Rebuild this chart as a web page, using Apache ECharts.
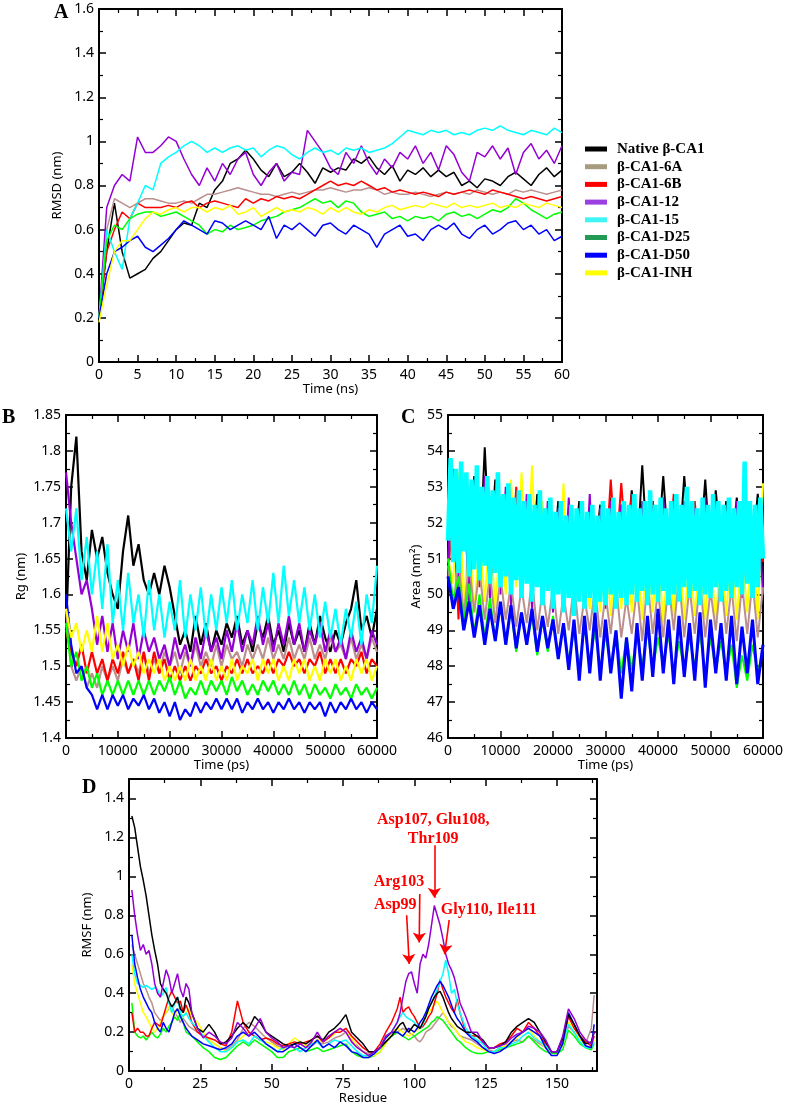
<!DOCTYPE html>
<html><head><meta charset="utf-8">
<script src="https://cdn.jsdelivr.net/npm/echarts@6/dist/echarts.min.js"></script>
<style>html,body{margin:0;padding:0;background:#fff}#c{width:787px;height:1106px}</style>
</head><body><div id="c"></div>
<script>
// ---------- categories / legend ----------
const NAMES = ['Native β-CA1','β-CA1-6A','β-CA1-6B','β-CA1-12','β-CA1-15','β-CA1-D25','β-CA1-D50','β-CA1-INH'];
const COLORS = ['#000000','#bc8f8f','#ff0000','#9400d3','#00ffff','#00ff00','#0000ff','#ffff00'];
const LEGEND_COLORS = ['#000000','#a89c80','#ff0000','#9a3fe0','#40f5f5','#229955','#0000ff','#ffff00'];

// ---------- Panel A: RMSD (nm) vs time (ns) ----------
const T_NS = [0,1,2,3,4,5,6,7,8,9,10,11,12,13,14,15,16,17,18,19,20,21,22,23,24,25,26,27,28,29,30,31,32,33,34,35,36,37,38,39,40,41,42,43,44,45,46,47,48,49,50,51,52,53,54,55,56,57,58,59,60];
const RMSD_NATIVE = [0.2,0.5,0.72,0.5,0.38,0.4,0.42,0.47,0.5,0.55,0.6,0.63,0.62,0.72,0.7,0.78,0.82,0.9,0.92,0.96,0.92,0.87,0.84,0.9,0.84,0.86,0.9,0.86,0.81,0.88,0.86,0.88,0.87,0.92,0.9,0.93,0.88,0.85,0.89,0.82,0.87,0.85,0.88,0.84,0.87,0.84,0.86,0.8,0.82,0.79,0.83,0.82,0.8,0.84,0.86,0.83,0.8,0.85,0.88,0.84,0.87];
const RMSD_6A = [0.2,0.6,0.74,0.72,0.7,0.72,0.74,0.74,0.73,0.72,0.72,0.73,0.72,0.74,0.76,0.76,0.77,0.78,0.79,0.78,0.77,0.76,0.76,0.75,0.76,0.77,0.76,0.77,0.78,0.78,0.79,0.78,0.77,0.78,0.78,0.79,0.78,0.76,0.77,0.76,0.76,0.77,0.76,0.75,0.76,0.77,0.76,0.77,0.76,0.78,0.77,0.76,0.77,0.76,0.78,0.77,0.78,0.77,0.76,0.77,0.78];
const RMSD_6B = [0.2,0.5,0.6,0.68,0.65,0.72,0.7,0.7,0.7,0.71,0.7,0.72,0.73,0.7,0.72,0.73,0.72,0.71,0.7,0.74,0.72,0.74,0.73,0.75,0.74,0.75,0.74,0.76,0.78,0.8,0.82,0.8,0.81,0.8,0.82,0.8,0.78,0.79,0.77,0.78,0.77,0.76,0.77,0.76,0.75,0.77,0.76,0.77,0.78,0.77,0.76,0.78,0.77,0.76,0.75,0.74,0.75,0.74,0.73,0.74,0.75];
const RMSD_12 = [0.2,0.7,0.8,0.85,0.82,1.02,0.95,0.95,0.98,1.02,1.0,0.92,0.85,0.8,0.88,0.82,0.9,0.85,0.92,0.95,0.85,0.8,0.86,0.9,0.82,0.86,0.85,1.05,1.0,0.95,0.88,0.85,0.95,0.9,0.98,0.9,0.85,0.92,0.88,0.95,0.92,0.98,0.9,0.95,0.87,0.98,0.94,0.86,0.82,0.95,0.93,0.98,0.92,0.97,0.85,0.95,0.99,0.92,0.96,0.9,0.98];
const RMSD_15 = [0.2,0.6,0.5,0.42,0.65,0.72,0.8,0.78,0.9,0.93,0.95,0.98,1.0,0.98,0.95,0.97,0.95,0.97,0.98,0.96,0.97,0.93,0.96,0.98,0.97,0.94,0.92,0.95,0.97,0.95,0.96,0.94,0.97,0.96,0.97,0.95,0.96,0.97,0.99,1.02,1.05,1.04,1.03,1.05,1.04,1.05,1.03,1.04,1.03,1.05,1.06,1.05,1.07,1.05,1.04,1.03,1.05,1.04,1.03,1.06,1.04];
const RMSD_D25 = [0.2,0.55,0.62,0.6,0.65,0.67,0.68,0.68,0.66,0.67,0.68,0.66,0.64,0.62,0.58,0.6,0.59,0.62,0.6,0.61,0.62,0.64,0.65,0.66,0.68,0.69,0.7,0.72,0.74,0.72,0.73,0.7,0.73,0.72,0.68,0.66,0.67,0.68,0.65,0.66,0.64,0.66,0.65,0.66,0.64,0.67,0.68,0.66,0.67,0.65,0.67,0.69,0.68,0.7,0.74,0.72,0.69,0.67,0.65,0.67,0.68];
const RMSD_D50 = [0.2,0.4,0.5,0.52,0.55,0.57,0.52,0.5,0.53,0.56,0.6,0.64,0.62,0.6,0.58,0.64,0.63,0.6,0.62,0.64,0.62,0.6,0.66,0.56,0.62,0.6,0.63,0.6,0.57,0.62,0.63,0.6,0.58,0.62,0.6,0.58,0.52,0.58,0.6,0.62,0.57,0.58,0.55,0.6,0.62,0.6,0.63,0.58,0.56,0.6,0.62,0.58,0.6,0.63,0.64,0.6,0.62,0.58,0.6,0.55,0.57];
const RMSD_INH = [0.18,0.35,0.5,0.55,0.55,0.6,0.65,0.68,0.67,0.69,0.7,0.68,0.7,0.7,0.68,0.7,0.69,0.71,0.67,0.68,0.7,0.66,0.68,0.7,0.68,0.69,0.68,0.7,0.69,0.67,0.7,0.68,0.7,0.68,0.67,0.69,0.68,0.7,0.71,0.69,0.7,0.71,0.7,0.72,0.71,0.7,0.72,0.7,0.71,0.7,0.71,0.72,0.7,0.71,0.7,0.72,0.71,0.7,0.72,0.71,0.7];

// ---------- Panels B & C: time (ps) ----------
const T_PS = [0,1000,2000,3000,4000,5000,6000,7000,8000,9000,10000,11000,12000,13000,14000,15000,16000,17000,18000,19000,20000,21000,22000,23000,24000,25000,26000,27000,28000,29000,30000,31000,32000,33000,34000,35000,36000,37000,38000,39000,40000,41000,42000,43000,44000,45000,46000,47000,48000,49000,50000,51000,52000,53000,54000,55000,56000,57000,58000,59000,60000];
const T_PS_FINE = [0,500,1000,1500,2000,2500,3000,3500,4000,4500,5000,5500,6000,6500,7000,7500,8000,8500,9000,9500,
 10000,10500,11000,11500,12000,12500,13000,13500,14000,14500,15000,15500,16000,16500,17000,17500,18000,18500,19000,19500,
 20000,20500,21000,21500,22000,22500,23000,23500,24000,24500,25000,25500,26000,26500,27000,27500,28000,28500,29000,29500,
 30000,30500,31000,31500,32000,32500,33000,33500,34000,34500,35000,35500,36000,36500,37000,37500,38000,38500,39000,39500,
 40000,40500,41000,41500,42000,42500,43000,43500,44000,44500,45000,45500,46000,46500,47000,47500,48000,48500,49000,49500,
 50000,50500,51000,51500,52000,52500,53000,53500,54000,54500,55000,55500,56000,56500,57000,57500,58000,58500,59000,59500,
 60000];

// Panel B: Rg (nm)
const RG_NATIVE = [1.55,1.75,1.82,1.66,1.62,1.69,1.65,1.68,1.63,1.6,1.58,1.66,1.71,1.64,1.67,1.62,1.6,1.63,1.6,1.64,1.61,1.57,1.53,1.55,1.52,1.57,1.53,1.56,1.52,1.55,1.53,1.56,1.54,1.57,1.53,1.55,1.52,1.56,1.54,1.57,1.53,1.55,1.52,1.56,1.53,1.55,1.52,1.56,1.53,1.57,1.54,1.52,1.55,1.53,1.56,1.58,1.62,1.55,1.57,1.54,1.58];
const RG_6A = [1.58,1.5,1.48,1.5,1.47,1.49,1.47,1.5,1.48,1.5,1.48,1.51,1.49,1.51,1.49,1.52,1.49,1.51,1.49,1.52,1.5,1.52,1.49,1.52,1.5,1.53,1.5,1.52,1.5,1.53,1.5,1.53,1.51,1.52,1.5,1.53,1.51,1.53,1.51,1.54,1.51,1.53,1.51,1.54,1.51,1.53,1.51,1.54,1.51,1.53,1.51,1.54,1.52,1.53,1.51,1.54,1.51,1.53,1.51,1.54,1.52];
const RG_6B = [1.55,1.52,1.5,1.53,1.49,1.52,1.49,1.51,1.48,1.51,1.49,1.52,1.49,1.51,1.48,1.52,1.48,1.52,1.49,1.51,1.48,1.5,1.48,1.5,1.48,1.5,1.49,1.51,1.49,1.5,1.48,1.5,1.49,1.51,1.49,1.51,1.49,1.5,1.49,1.51,1.49,1.51,1.5,1.52,1.5,1.51,1.49,1.51,1.5,1.52,1.49,1.51,1.49,1.51,1.49,1.51,1.5,1.52,1.49,1.51,1.5];
const RG_12 = [1.77,1.7,1.65,1.6,1.62,1.58,1.53,1.57,1.52,1.56,1.51,1.55,1.52,1.56,1.51,1.55,1.52,1.54,1.51,1.53,1.5,1.54,1.51,1.53,1.5,1.54,1.51,1.55,1.52,1.54,1.51,1.55,1.52,1.56,1.52,1.55,1.53,1.57,1.53,1.56,1.52,1.56,1.53,1.57,1.53,1.56,1.52,1.55,1.53,1.56,1.52,1.55,1.52,1.54,1.51,1.55,1.52,1.54,1.51,1.55,1.53];
const RG_15 = [1.72,1.66,1.72,1.62,1.68,1.6,1.66,1.58,1.67,1.56,1.62,1.55,1.63,1.56,1.6,1.54,1.62,1.55,1.6,1.54,1.59,1.55,1.62,1.54,1.6,1.55,1.61,1.54,1.6,1.55,1.61,1.56,1.62,1.55,1.6,1.56,1.62,1.55,1.61,1.56,1.63,1.56,1.64,1.57,1.62,1.56,1.61,1.55,1.6,1.54,1.59,1.54,1.58,1.53,1.58,1.54,1.59,1.53,1.6,1.56,1.64];
const RG_D25 = [1.56,1.5,1.52,1.48,1.5,1.47,1.49,1.46,1.48,1.46,1.48,1.46,1.48,1.46,1.48,1.46,1.48,1.46,1.48,1.465,1.485,1.46,1.48,1.455,1.47,1.46,1.48,1.46,1.48,1.465,1.48,1.46,1.485,1.465,1.48,1.46,1.475,1.46,1.48,1.465,1.48,1.46,1.475,1.46,1.48,1.46,1.475,1.455,1.475,1.46,1.47,1.455,1.475,1.46,1.47,1.455,1.475,1.46,1.47,1.455,1.47];
const RG_D50 = [1.6,1.53,1.49,1.5,1.47,1.46,1.44,1.46,1.44,1.46,1.445,1.46,1.44,1.455,1.445,1.46,1.44,1.455,1.435,1.45,1.43,1.45,1.425,1.44,1.43,1.45,1.435,1.45,1.44,1.455,1.44,1.455,1.44,1.455,1.435,1.45,1.44,1.455,1.44,1.45,1.435,1.45,1.44,1.455,1.44,1.45,1.435,1.45,1.44,1.45,1.43,1.45,1.435,1.45,1.44,1.455,1.44,1.45,1.435,1.45,1.44];
const RG_INH = [1.58,1.54,1.56,1.52,1.55,1.52,1.57,1.52,1.56,1.51,1.53,1.5,1.53,1.5,1.52,1.49,1.51,1.49,1.51,1.48,1.5,1.48,1.5,1.48,1.51,1.48,1.5,1.48,1.51,1.48,1.5,1.48,1.51,1.48,1.5,1.49,1.51,1.48,1.51,1.49,1.51,1.48,1.5,1.48,1.51,1.49,1.51,1.48,1.5,1.48,1.51,1.49,1.51,1.48,1.5,1.48,1.51,1.49,1.51,1.48,1.5];

// Panel C: Area (nm^2)
const AREA_NATIVE = [51.5,53,51,53.2,51.2,53.3,50.8,54.1,51,53.2,51.2,52.8,50.8,52.6,51,52.5,50.7,52.8,51,52.4,50.8,52.6,50.9,52.3,51,52.6,50.8,52.4,51.1,52.5,50.8,52.7,51,52.5,51.2,52.9,51,53.6,51.1,52.6,51.3,53.3,51.2,52.4,51.1,53.3,51.4,52.3,51.2,53.2,51,52.9,51.3,52.6,51.1,52.7,51.3,52.5,51.2,52.8,51.5];
const AREA_6A = [50.8,49.6,51,49.4,50.9,49.5,50.7,49.3,50.6,49.2,50.5,49.3,50.3,49.1,50.2,49.2,50.4,49,50.1,49.1,50.2,48.9,50,49,50.3,48.9,49.9,49,50.2,48.8,50,48.9,50.3,48.8,49.9,48.9,50.2,48.7,50.4,48.9,50.1,48.8,50.3,49,50.5,48.8,50.2,48.9,50.4,48.8,50.1,49,50.5,48.9,50.2,48.7,50.3,48.9,50.4,48.8,50.2];
const AREA_6B = [50.5,52.5,49.3,52.8,50,52.6,50.2,52.5,50.4,52.6,50.5,52.7,50.6,53,50.8,52.6,50.6,52.4,50.5,52.3,50.7,52.2,50.5,52.4,50.6,52.2,50.7,52.3,50.6,52.4,50.8,53.2,51,53.1,51.2,52.8,50.9,52.5,51,52.6,50.8,52.4,51,52.8,50.9,52.5,51.1,52.6,50.8,52.4,51,52.5,50.9,52.3,51,52.4,50.8,52.6,51,52.3,50.9];
const AREA_12 = [51,53.5,50.2,53.2,49.8,53,50.3,53.3,49.9,52.8,50,53,49.7,52.5,50,52.8,49.6,52.3,49.8,52.6,49.5,52.4,49.7,52.7,49.6,52.2,49.8,52.8,49.7,52.4,49.6,52.6,49.8,52.5,50.2,52.3,49.9,52.6,50.3,52.4,50,52.7,50.4,52.5,49.9,52.6,50.3,52.4,50,52.7,50.4,52.5,50,52.3,50.2,52.6,49.9,52.4,50.3,52.5,50];
const AREA_15 = [51.5,53.8,50.9,53.5,50.6,53.7,51.2,53.4,50.5,53.2,
 50.7,53.6,50.4,53.0,50.8,53.3,50.3,52.9,50.6,53.4,
 50.2,52.8,50.5,53.1,50.0,52.7,50.4,52.9,49.9,52.6,
 50.3,52.8,49.8,52.5,50.2,52.9,49.7,52.4,50.1,52.7,
 49.6,52.3,50.0,52.6,49.5,52.2,49.9,52.5,49.4,52.4,
 49.8,52.6,49.6,52.3,49.9,52.5,49.5,52.2,49.8,52.6,
 49.7,52.4,50.0,52.7,49.6,52.3,49.9,52.6,49.7,52.5,
 50.0,52.8,49.8,52.4,50.1,52.6,49.7,52.9,50.0,52.5,
 49.8,52.7,50.1,52.4,49.7,52.6,50.0,52.8,49.8,52.5,
 50.2,53.0,49.9,52.6,50.1,52.4,49.7,52.7,50.0,52.5,
 49.9,52.8,50.2,52.6,49.8,52.5,50.1,52.7,49.9,52.4,
 50.2,52.6,50.0,53.7,50.3,52.6,49.9,52.5,50.2,52.7,
 51.0];
const AREA_D25 = [51,49.8,50.5,49.2,50.3,48.9,50,48.8,49.9,48.7,49.7,48.6,49.6,48.4,49.5,48.6,49.4,48.3,49.3,48.4,49.4,48.2,49.2,48.1,49,48,49.1,48.1,49,47.9,48.9,48,49,47.8,48.8,47.9,48.9,48,49,47.9,48.8,48,48.9,47.8,48.7,47.9,48.8,48,48.9,47.8,48.8,47.9,48.7,47.8,48.6,47.4,48.3,47.6,48.6,47.8,48.5];
const AREA_D50 = [50.5,49.6,50.2,49,49.8,48.8,49.7,48.6,49.6,48.7,49.8,48.6,49.7,48.5,49.5,48.6,49.6,48.4,49.4,48.5,49.3,48.2,49.2,47.9,49.3,47.6,49.4,47.8,49.5,47.6,49.3,47.8,49,47.1,48.8,47.3,49.2,47.6,49.4,47.7,49.6,47.8,49.3,47.5,49.4,47.7,49.2,47.6,49.5,47.4,49.3,47.8,49.2,47.6,49.4,47.5,49.1,47.8,49.3,47.5,48.6];
const AREA_INH = [51,50.3,53.4,49.7,51.8,49.5,51.6,49.8,51.9,49.6,51.7,50,53.2,50.2,53.4,50.4,53.6,50.3,52.6,50.1,51.8,50.2,53.1,50,51.6,49.8,51.5,49.6,51.4,49.5,51.6,49.4,51.3,49.6,51.5,49.5,51.2,49.3,51.4,49.5,51.3,49.2,51.2,49.4,51.4,49.3,51.1,49.4,51.3,49.3,51.2,49.2,51.4,49.4,51.5,49.3,51.2,49.5,51.6,49.3,53.1];

// ---------- Panel D: RMSF (nm) vs residue ----------
const RESIDUES = [1,2,3,4,5,6,7,8,9,10,11,12,13,14,15,16,17,18,19,20,21,22,
 24,26,28,30,32,34,36,38,40,42,44,46,48,50,52,54,56,58,60,62,64,66,68,70,72,74,76,78,80,82,84,86,88,90,92,94,
 95,96,97,98,99,100,101,102,103,104,105,106,107,108,109,110,111,112,113,114,115,116,
 118,120,122,124,126,128,130,132,134,136,138,140,142,144,146,148,150,152,154,156,158,160,162,
 163];
const RMSF_NATIVE = [1.31,1.25,1.15,1.05,0.98,0.9,0.8,0.7,0.62,0.55,0.45,0.42,0.4,0.36,0.33,0.35,0.38,0.32,0.3,0.38,0.35,0.3,
 0.22,0.2,0.24,0.2,0.14,0.15,0.18,0.22,0.25,0.22,0.28,0.25,0.2,0.18,0.16,0.14,0.13,0.14,0.15,0.14,0.16,0.18,0.16,0.2,0.22,0.25,0.29,0.2,0.17,0.14,0.1,0.1,0.12,0.15,0.18,0.22,
 0.24,0.25,0.22,0.2,0.22,0.24,0.23,0.22,0.25,0.28,0.32,0.35,0.38,0.4,0.41,0.38,0.34,0.3,0.27,0.25,0.23,0.22,
 0.2,0.2,0.18,0.16,0.12,0.12,0.13,0.15,0.2,0.23,0.25,0.27,0.25,0.2,0.15,0.1,0.1,0.17,0.29,0.24,0.18,0.14,0.15,
 0.2];
const RMSF_6A = [0.65,0.6,0.55,0.5,0.45,0.42,0.38,0.35,0.3,0.28,0.26,0.28,0.3,0.32,0.34,0.3,0.28,0.25,0.27,0.25,0.23,0.22,
 0.2,0.18,0.16,0.14,0.12,0.11,0.13,0.16,0.22,0.25,0.23,0.2,0.17,0.15,0.13,0.12,0.13,0.12,0.1,0.12,0.13,0.15,0.14,0.15,0.17,0.18,0.2,0.16,0.13,0.1,0.09,0.1,0.12,0.15,0.18,0.2,
 0.21,0.22,0.21,0.2,0.19,0.18,0.16,0.15,0.17,0.2,0.21,0.22,0.24,0.26,0.28,0.3,0.28,0.25,0.23,0.22,0.2,0.18,
 0.17,0.16,0.14,0.12,0.11,0.1,0.12,0.13,0.15,0.16,0.15,0.18,0.16,0.14,0.12,0.1,0.1,0.13,0.23,0.2,0.16,0.14,0.22,
 0.39];
const RMSF_6B = [0.3,0.2,0.22,0.2,0.2,0.18,0.18,0.22,0.25,0.24,0.23,0.28,0.33,0.38,0.41,0.38,0.35,0.36,0.3,0.34,0.3,0.25,
 0.2,0.18,0.17,0.16,0.14,0.13,0.2,0.36,0.25,0.2,0.18,0.16,0.17,0.16,0.14,0.13,0.14,0.15,0.14,0.15,0.16,0.18,0.15,0.17,0.2,0.2,0.22,0.18,0.15,0.12,0.1,0.1,0.14,0.2,0.25,0.32,
 0.38,0.3,0.32,0.33,0.3,0.28,0.25,0.22,0.23,0.25,0.28,0.3,0.35,0.4,0.47,0.42,0.38,0.35,0.32,0.3,0.37,0.3,
 0.2,0.18,0.18,0.15,0.12,0.12,0.14,0.15,0.18,0.22,0.2,0.25,0.22,0.18,0.14,0.1,0.1,0.15,0.28,0.22,0.18,0.15,0.13,
 0.18];
const RMSF_12 = [0.93,0.8,0.7,0.62,0.65,0.6,0.62,0.55,0.45,0.4,0.38,0.45,0.52,0.48,0.4,0.45,0.5,0.42,0.38,0.45,0.42,0.3,
 0.22,0.17,0.2,0.18,0.15,0.14,0.17,0.25,0.22,0.18,0.22,0.27,0.2,0.17,0.15,0.12,0.13,0.12,0.14,0.12,0.15,0.2,0.15,0.18,0.2,0.22,0.2,0.15,0.12,0.1,0.08,0.1,0.12,0.18,0.2,0.25,
 0.3,0.38,0.46,0.5,0.51,0.45,0.4,0.55,0.6,0.58,0.65,0.75,0.85,0.8,0.75,0.68,0.6,0.55,0.52,0.48,0.42,0.35,
 0.28,0.2,0.2,0.15,0.12,0.12,0.13,0.14,0.17,0.19,0.2,0.23,0.22,0.2,0.16,0.1,0.1,0.18,0.32,0.27,0.2,0.16,0.14,
 0.2];
const RMSF_15 = [0.6,0.5,0.45,0.44,0.43,0.44,0.43,0.42,0.43,0.42,0.38,0.4,0.43,0.35,0.3,0.35,0.38,0.3,0.28,0.3,0.27,0.25,
 0.22,0.18,0.15,0.12,0.1,0.1,0.12,0.15,0.16,0.14,0.18,0.16,0.14,0.12,0.1,0.12,0.13,0.12,0.1,0.12,0.14,0.15,0.12,0.14,0.16,0.15,0.16,0.13,0.1,0.08,0.08,0.09,0.12,0.18,0.2,0.25,
 0.28,0.3,0.28,0.27,0.26,0.25,0.23,0.22,0.24,0.28,0.32,0.35,0.38,0.42,0.46,0.5,0.57,0.5,0.4,0.42,0.35,0.3,
 0.22,0.18,0.16,0.14,0.1,0.1,0.12,0.12,0.14,0.15,0.18,0.2,0.17,0.15,0.13,0.1,0.1,0.14,0.24,0.2,0.15,0.12,0.12,
 0.15];
const RMSF_D25 = [0.35,0.2,0.18,0.17,0.18,0.16,0.18,0.2,0.18,0.17,0.19,0.22,0.2,0.23,0.25,0.28,0.26,0.3,0.25,0.2,0.19,0.18,
 0.15,0.12,0.1,0.07,0.06,0.07,0.1,0.13,0.15,0.13,0.16,0.14,0.12,0.1,0.07,0.07,0.1,0.11,0.12,0.1,0.11,0.12,0.1,0.11,0.12,0.13,0.14,0.1,0.08,0.07,0.07,0.08,0.1,0.15,0.18,0.2,
 0.19,0.18,0.17,0.16,0.17,0.18,0.19,0.2,0.21,0.22,0.23,0.25,0.26,0.28,0.27,0.26,0.24,0.22,0.2,0.18,0.16,0.15,
 0.12,0.1,0.09,0.09,0.1,0.1,0.11,0.12,0.13,0.14,0.15,0.18,0.15,0.12,0.1,0.09,0.09,0.11,0.21,0.18,0.14,0.12,0.11,
 0.14];
const RMSF_D50 = [0.7,0.55,0.48,0.42,0.38,0.35,0.32,0.3,0.25,0.22,0.2,0.25,0.22,0.2,0.25,0.3,0.32,0.28,0.25,0.22,0.2,0.18,
 0.16,0.14,0.13,0.12,0.11,0.12,0.14,0.18,0.2,0.18,0.2,0.17,0.14,0.12,0.1,0.1,0.12,0.14,0.12,0.1,0.13,0.16,0.12,0.14,0.12,0.15,0.13,0.1,0.09,0.07,0.07,0.09,0.12,0.17,0.2,0.2,
 0.19,0.18,0.2,0.22,0.21,0.2,0.22,0.25,0.27,0.3,0.34,0.38,0.41,0.44,0.46,0.44,0.41,0.38,0.34,0.3,0.27,0.25,
 0.2,0.17,0.15,0.12,0.1,0.09,0.1,0.12,0.15,0.18,0.2,0.22,0.2,0.18,0.12,0.08,0.08,0.14,0.3,0.24,0.18,0.13,0.12,
 0.24];
const RMSF_INH = [0.55,0.45,0.4,0.35,0.3,0.28,0.25,0.22,0.2,0.22,0.25,0.28,0.3,0.33,0.3,0.28,0.32,0.3,0.28,0.3,0.32,0.28,
 0.25,0.2,0.16,0.14,0.12,0.1,0.12,0.15,0.18,0.2,0.18,0.16,0.15,0.14,0.12,0.11,0.14,0.17,0.15,0.13,0.14,0.16,0.15,0.17,0.19,0.22,0.2,0.17,0.12,0.1,0.08,0.08,0.1,0.14,0.2,0.22,
 0.21,0.2,0.19,0.18,0.19,0.2,0.21,0.22,0.25,0.28,0.3,0.32,0.34,0.36,0.33,0.3,0.28,0.25,0.24,0.22,0.2,0.18,
 0.15,0.14,0.12,0.11,0.1,0.1,0.12,0.13,0.15,0.17,0.2,0.22,0.18,0.15,0.12,0.1,0.1,0.13,0.25,0.22,0.16,0.13,0.12,
 0.16];

// annotations (residue, RMSF)
const ANNOT_TEXT = ['Asp107, Glu108,\nThr109','Arg103','Asp99','Gly110, Ile111'];
const ANNOT_POS = [[106.6,1.24],[94.6,0.97],[93.3,0.852],[126.1,0.827]];
const ARROWS = [[[107,1.16],[107,0.89]],[[101.9,0.91],[101.7,0.66]],[[97.3,0.8],[98.2,0.55]],[[112.2,0.776],[110.6,0.6]]];

// ---------- build ----------
const FONT = '"Noto Sans", "DejaVu Sans", sans-serif';
const SERIF = '"Liberation Serif", "DejaVu Serif", serif';
function stepFmt(step){ return v => { const k = v/step; return Math.abs(k-Math.round(k)) < 1e-6 ? String(parseFloat(v.toFixed(4))) : ''; }; }
function axisBase(grid, min, max, interval){
  return {type:'value', gridIndex:grid, min, max, interval, scale:false,
    splitLine:{show:false}, minorSplitLine:{show:false},
    axisLine:{show:true, onZero:false, lineStyle:{color:'#000', width:2}},
    axisTick:{show:true, inside:true, length:7, lineStyle:{color:'#000', width:1.5}},
    minorTick:{show:true, splitNumber:2, length:4, lineStyle:{color:'#000', width:1.2}}};
}
const nameStyle = {fontFamily:FONT, fontSize:13, color:'#000'};
function xPair(grid, min, max, interval, name, gap){
  return [
    Object.assign(axisBase(grid,min,max,interval), {position:'bottom', name, nameLocation:'middle', nameGap:gap, nameTextStyle:nameStyle,
      axisLabel:{show:true, margin:6, color:'#000', fontSize:14, fontFamily:FONT, formatter:stepFmt(interval)}}),
    Object.assign(axisBase(grid,min,max,interval), {position:'top', axisLabel:{show:false}})
  ];
}
function yPair(grid, min, max, interval, name, gap){
  return [
    Object.assign(axisBase(grid,min,max,interval), {position:'left', name, nameLocation:'middle', nameGap:gap, nameTextStyle:nameStyle,
      axisLabel:{show:true, margin:5, color:'#000', fontSize:14, fontFamily:FONT, formatter:stepFmt(interval)}}),
    Object.assign(axisBase(grid,min,max,interval), {position:'right', axisLabel:{show:false}})
  ];
}
function line(idx, axis, xs, ys, width){
  return {type:'line', name:NAMES[idx], xAxisIndex:axis, yAxisIndex:axis, data:xs.map((x,i)=>[x, ys[i]]),
    symbol:'none', showSymbol:false, smooth:false, animation:false, silent:true,
    lineStyle:{color:COLORS[idx], width}, itemStyle:{color:COLORS[idx]}, emphasis:{disabled:true}};
}

const series = [];
// A
const A = [RMSD_NATIVE,RMSD_6A,RMSD_6B,RMSD_12,RMSD_15,RMSD_D25,RMSD_D50,RMSD_INH];
[0,1,2,3,4,5,6,7].forEach(i => series.push(line(i, 0, T_NS, A[i], 1.5)));
// B
const B = [RG_NATIVE,RG_6A,RG_6B,RG_12,RG_15,RG_D25,RG_D50,RG_INH];
[0,1,2,3,4,5,6,7].forEach(i => series.push(line(i, 2, T_PS, B[i], 2.2)));
// C (cyan is sampled finer and drawn last)
const C = [AREA_NATIVE,AREA_6A,AREA_6B,AREA_12,AREA_15,AREA_D25,AREA_D50,AREA_INH];
[0,2,7,3,1,5].forEach(i => series.push(line(i, 4, T_PS, C[i], 2)));
series.push(line(6, 4, T_PS, AREA_D50, 3));
series.push(line(4, 4, T_PS_FINE, AREA_15, 4.5));
// D
const D = [RMSF_NATIVE,RMSF_6A,RMSF_6B,RMSF_12,RMSF_15,RMSF_D25,RMSF_D50,RMSF_INH];
[1,5,7,2,4,6,0,3].forEach(i => series.push(line(i, 6, RESIDUES, D[i], 1.5)));
const purpleD = series[series.length-1];
purpleD.markLine = {silent:true, animation:false, symbol:['none','arrow'], symbolSize:10, precision:4,
  label:{show:false}, emphasis:{disabled:true}, lineStyle:{color:'#ff0000', width:1.6, type:'solid'},
  data: ARROWS.map(a => [{coord:a[0]},{coord:a[1]}])};
purpleD.markPoint = {silent:true, animation:false, symbol:'circle', symbolSize:1, itemStyle:{color:'rgba(0,0,0,0)'},
  label:{show:true, position:'inside', formatter:'{b}', color:'#ff0000', fontFamily:SERIF, fontWeight:'bold', fontSize:16, lineHeight:19, align:'center'},
  data: ANNOT_TEXT.map((t,i) => ({name:t, coord:ANNOT_POS[i]}))};

const option = {
  animation:false,
  backgroundColor:'#ffffff',
  grid:[
    {left:99, top:9, width:463, height:353},
    {left:66, top:415, width:311, height:323},
    {left:448, top:415, width:315, height:323},
    {left:129, top:779, width:468, height:298}
  ],
  xAxis:[].concat(
    xPair(0, 0, 60, 5, 'Time (ns)', 21),
    xPair(1, 0, 60000, 10000, 'Time (ps)', 19),
    xPair(2, 0, 60000, 10000, 'Time (ps)', 19),
    xPair(3, 0, 164, 25, 'Residue', 18)
  ),
  yAxis:[].concat(
    yPair(0, 0, 1.6, 0.2, 'RMSD (nm)', 27),
    yPair(1, 1.4, 1.85, 0.05, 'Rg (nm)', 38),
    yPair(2, 46, 55, 1, 'Area (nm²)', 25),
    yPair(3, 0, 1.5, 0.2, 'RMSF (nm)', 27)
  ),
  legend:{orient:'vertical', left:580, top:136, itemWidth:22, itemHeight:5, itemGap:1.7, icon:'rect', selectedMode:false,
    textStyle:{fontFamily:SERIF, fontWeight:'bold', fontSize:15, color:'#000', lineHeight:16, padding:[0,0,0,5]},
    data: NAMES.map((n,i) => ({name:n, itemStyle:{color:LEGEND_COLORS[i]}, lineStyle:{color:LEGEND_COLORS[i]}}))},
  graphic:[
    {type:'text', left:54, top:3, style:{text:'A', font:'bold 20px "Liberation Serif"', fill:'#000'}},
    {type:'text', left:2, top:408, style:{text:'B', font:'bold 20px "Liberation Serif"', fill:'#000'}},
    {type:'text', left:401, top:408, style:{text:'C', font:'bold 20px "Liberation Serif"', fill:'#000'}},
    {type:'text', left:82, top:778, style:{text:'D', font:'bold 20px "Liberation Serif"', fill:'#000'}}
  ],
  series
};
const chart = echarts.init(document.getElementById('c'), null, {renderer:'canvas', width:787, height:1106});
chart.setOption(option);
</script>
</body></html>
